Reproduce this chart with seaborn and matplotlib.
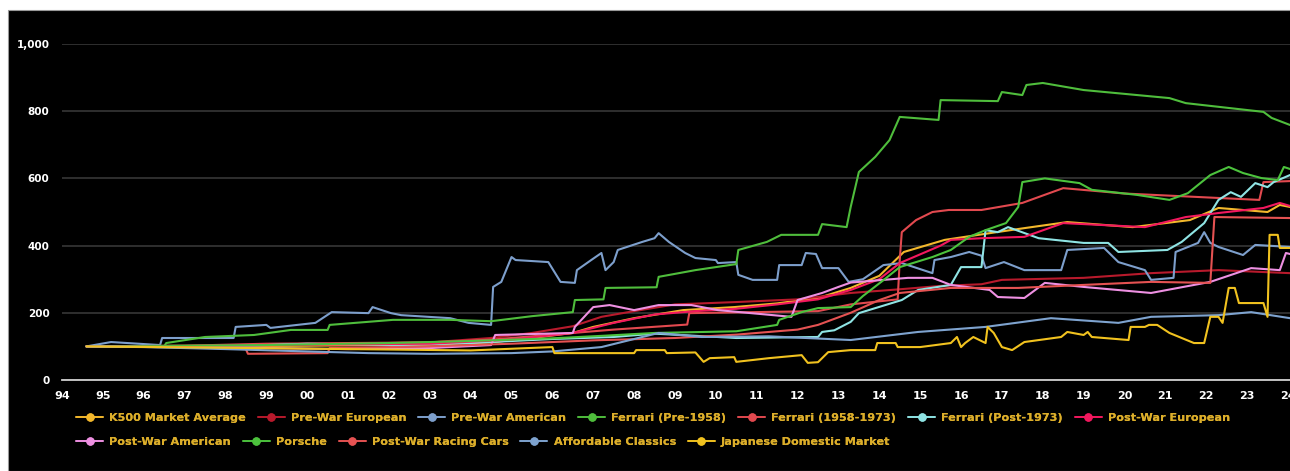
# k500_index_chart.py

import pandas as pd
import matplotlib
matplotlib.use("Agg")
import matplotlib.pyplot as plt
from matplotlib.lines import Line2D
from matplotlib.patches import Rectangle
from matplotlib.ticker import MultipleLocator, FuncFormatter
import seaborn as sns

# --- Données (année décimale, indice) ---
k500 = [(1994.6, 100), (1997, 100), (2000, 102), (2003, 105), (2004.5, 112), (2005.5, 125),
        (2006.5, 140), (2007, 158), (2008, 184), (2009.2, 208), (2010.45, 217), (2011.5, 228),
        (2012.5, 244), (2013.3, 274), (2014, 310), (2014.6, 381), (2015.6, 417), (2016.7, 437),
        (2017.55, 452), (2018.6, 470), (2020.2, 455), (2021.6, 476), (2022.3, 512),
        (2023.5, 500), (2023.8, 521), (2024.05, 515)]

pre_war_european = [(1994.6, 100), (1997, 102), (1999, 105), (2001, 108), (2003, 112),
                    (2004.5, 125), (2005.5, 140), (2006.5, 160), (2007.2, 188), (2008, 205),
                    (2009, 225), (2010.5, 232), (2012, 240), (2013.3, 259), (2014.5, 270),
                    (2015.5, 280), (2016.5, 285), (2017, 298), (2019, 304), (2020.65, 318),
                    (2022.3, 327), (2024.05, 318)]

pre_war_american = [(1994.6, 100), (1995.2, 113), (1996.4, 104), (1996.45, 125), (1998.2, 125),
                    (1998.25, 158), (1999, 164), (1999.1, 155), (2000.2, 170), (2000.6, 202),
                    (2001.5, 199), (2001.6, 217), (2002.05, 199), (2002.3, 193), (2003.5, 184),
                    (2003.95, 170), (2004.5, 164), (2004.55, 277), (2004.75, 292), (2005.0, 366),
                    (2005.1, 357), (2005.9, 351), (2006.2, 292), (2006.55, 289), (2006.6, 327),
                    (2006.95, 357), (2007.2, 378), (2007.3, 327), (2007.5, 351), (2007.6, 387),
                    (2008.2, 411), (2008.5, 422), (2008.6, 437), (2008.85, 411), (2009.25, 378),
                    (2009.5, 363), (2010, 357), (2010.05, 348), (2010.5, 351), (2010.55, 313),
                    (2010.9, 298), (2011.5, 298), (2011.55, 342), (2012.1, 342), (2012.2, 378),
                    (2012.45, 375), (2012.6, 333), (2013, 333), (2013.25, 292), (2013.6, 300),
                    (2014.1, 342), (2014.55, 348), (2015.3, 318), (2015.35, 357), (2015.75, 366),
                    (2016.2, 381), (2016.5, 370), (2016.6, 333), (2017.05, 351), (2017.55, 327),
                    (2018.45, 327), (2018.6, 387), (2019.5, 393), (2019.85, 351), (2020.5, 327),
                    (2020.65, 298), (2021.2, 304), (2021.25, 381), (2021.8, 408), (2021.95, 440),
                    (2022.1, 408), (2022.3, 396), (2022.9, 372), (2023.2, 402), (2024.05, 396)]

ferrari_pre_1958 = [(1994.6, 100), (1996.5, 100), (1996.55, 110), (1997.5, 128), (1998.7, 134),
                    (1999.6, 149), (2000.5, 149), (2000.55, 164), (2002.1, 179), (2003.5, 179),
                    (2004.5, 175), (2005.5, 190), (2006.5, 202), (2006.55, 238), (2007.25, 240),
                    (2007.3, 274), (2008.55, 276), (2008.6, 307), (2009.5, 327), (2010.5, 345),
                    (2010.55, 387), (2011.25, 411), (2011.6, 432), (2012.5, 432), (2012.6, 464),
                    (2013.2, 455), (2013.3, 515), (2013.5, 619), (2013.9, 664), (2014.25, 714),
                    (2014.5, 783), (2015.45, 774), (2015.5, 833), (2016.9, 830), (2017.0, 857),
                    (2017.5, 848), (2017.6, 878), (2018.0, 884), (2019.0, 863), (2021.1, 839),
                    (2021.5, 824), (2023.4, 798), (2023.6, 780), (2024.05, 759)]

ferrari_1958_1973 = [(1994.6, 100), (1997, 102), (1999, 108), (2001, 110), (2003, 112),
                     (2004.5, 120), (2006, 135), (2007.5, 150), (2009.3, 165), (2009.35, 199),
                     (2012.5, 205), (2013.3, 225), (2014.45, 240), (2014.5, 357), (2014.55, 440),
                     (2014.9, 476), (2015.3, 500), (2015.7, 506), (2016.5, 506), (2017.5, 527),
                     (2018.5, 571), (2020, 555), (2023.3, 536), (2023.4, 589), (2024.05, 592)]

ferrari_post_1973 = [(1994.6, 100), (1998, 100), (2000, 108), (2002.3, 104), (2004, 110),
                     (2006, 122), (2007.5, 128), (2008.5, 138), (2010.5, 125), (2012.5, 128),
                     (2012.6, 143), (2012.9, 148), (2013.3, 173), (2013.5, 199), (2014.55, 238),
                     (2014.95, 268), (2015.75, 283), (2016.0, 336), (2016.5, 336), (2016.6, 446),
                     (2016.9, 440), (2017.15, 455), (2017.9, 422), (2019.0, 408), (2019.6, 408),
                     (2019.85, 381), (2021.05, 387), (2021.4, 411), (2021.95, 467), (2022.3, 536),
                     (2022.6, 559), (2022.85, 545), (2023.2, 586), (2023.5, 574), (2023.65, 589),
                     (2024.05, 610)]

post_war_european = [(1994.6, 100), (1997, 100), (2000, 105), (2003, 108), (2005, 120),
                     (2006.5, 140), (2007.5, 170), (2008.5, 195), (2009.5, 205), (2010.5, 212),
                     (2011.5, 225), (2012.5, 240), (2013.3, 268), (2014, 300), (2014.5, 348),
                     (2015.5, 400), (2015.75, 417), (2016.5, 422), (2017.55, 426), (2018.5, 467),
                     (2020.5, 455), (2021.5, 485), (2022.3, 497), (2023.4, 512), (2023.8, 527),
                     (2024.05, 518)]

post_war_american = [(1994.6, 100), (1996.5, 98), (1999, 95), (2001, 92), (2003, 95),
                     (2004.5, 104), (2004.6, 134), (2006.5, 140), (2006.55, 158), (2007, 217),
                     (2007.4, 223), (2008, 208), (2008.6, 223), (2009.4, 223), (2010.05, 208),
                     (2011.85, 188), (2012, 238), (2012.6, 259), (2013, 277), (2013.3, 290),
                     (2014.7, 304), (2015.3, 304), (2015.75, 283), (2016.7, 268), (2016.9, 247),
                     (2017.55, 244), (2018.05, 289), (2019, 277), (2020.65, 259), (2022.1, 292),
                     (2023.1, 333), (2023.8, 327), (2023.95, 378), (2024.05, 375)]

porsche = [(1994.6, 100), (1999, 104), (2002, 110), (2004, 116), (2006, 124), (2007.3, 132),
           (2008.5, 140), (2010.5, 145), (2011.5, 164), (2011.55, 179), (2012.1, 202),
           (2012.5, 214), (2013.3, 217), (2013.6, 250), (2014.1, 297), (2014.5, 336),
           (2015.3, 366), (2015.75, 387), (2016.2, 426), (2016.6, 446), (2017.1, 467),
           (2017.4, 515), (2017.5, 589), (2018.05, 600), (2018.9, 586), (2019.2, 566),
           (2020.3, 551), (2021.1, 536), (2021.55, 556), (2022.1, 610), (2022.55, 634),
           (2022.9, 616), (2023.35, 601), (2023.75, 595), (2023.9, 634), (2024.05, 628)]

post_war_racing = [(1994.6, 100), (1997, 98), (1998.5, 92), (1998.55, 78), (2000.5, 80),
                   (2000.55, 95), (2003, 100), (2005, 108), (2007, 118), (2009, 125),
                   (2010.5, 135), (2012, 150), (2012.5, 164), (2013.3, 200), (2014, 238),
                   (2014.5, 259), (2015.75, 274), (2017.4, 274), (2019, 283), (2020.65, 292),
                   (2022.1, 289), (2022.2, 485), (2024.05, 482)]

affordable_classics = [(1994.6, 100), (1996, 98), (1998, 92), (2000, 85), (2001.5, 80),
                       (2003, 78), (2005, 80), (2006, 85), (2007.2, 98), (2008.6, 140),
                       (2009.65, 128), (2011.3, 130), (2013.3, 119), (2014.95, 143),
                       (2016.6, 158), (2018.2, 184), (2019.85, 170), (2020.65, 188),
                       (2022.3, 193), (2023.1, 202), (2024.05, 184)]

japanese_domestic = [(1994.6, 100), (1998, 96), (2001, 92), (2004, 88), (2006, 98), (2006.05, 80),
                     (2008, 80), (2008.05, 89), (2008.75, 89), (2008.8, 80), (2009.5, 82),
                     (2009.7, 54), (2009.85, 65), (2010.45, 68), (2010.5, 54), (2011.3, 65),
                     (2012.1, 74), (2012.25, 51), (2012.5, 53), (2012.75, 83), (2013.3, 89),
                     (2013.9, 89), (2013.95, 110), (2014.4, 110), (2014.45, 98), (2015.0, 98),
                     (2015.75, 110), (2015.9, 128), (2016.0, 98), (2016.1, 110), (2016.3, 128),
                     (2016.6, 110), (2016.65, 158), (2016.8, 140), (2017.0, 98), (2017.25, 89),
                     (2017.55, 113), (2018.45, 128), (2018.6, 143), (2019, 134), (2019.1, 143),
                     (2019.2, 128), (2020.1, 119), (2020.15, 158), (2020.5, 158), (2020.6, 164),
                     (2020.8, 164), (2021.1, 140), (2021.7, 110), (2021.95, 110), (2022.1, 188),
                     (2022.3, 188), (2022.4, 170), (2022.55, 274), (2022.7, 274), (2022.8, 229),
                     (2023.4, 229), (2023.5, 188), (2023.55, 432), (2023.75, 432), (2023.8, 393),
                     (2024.05, 393)]

series_names = ["K500 Market Average", "Pre-War European", "Pre-War American",
                "Ferrari (Pre-1958)", "Ferrari (1958-1973)", "Ferrari (Post-1973)",
                "Post-War European", "Post-War American", "Porsche",
                "Post-War Racing Cars", "Affordable Classics", "Japanese Domestic Market"]
series_data = [k500, pre_war_european, pre_war_american, ferrari_pre_1958, ferrari_1958_1973,
               ferrari_post_1973, post_war_european, post_war_american, porsche,
               post_war_racing, affordable_classics, japanese_domestic]
series_colors = ["#f3b82c", "#b81a2c", "#7d9fcc", "#4fbd3c", "#e2494f", "#8fe4e4",
                 "#f2185e", "#ee90e2", "#4cc23d", "#e55252", "#7ea3cf", "#f1c21f"]

year_ticks = list(range(1994, 2025))
year_labels = ["%02d" % (y % 100) for y in year_ticks]

# --- Tableau long ---
rows = []
for name, pts in zip(series_names, series_data):
    for yr, val in pts:
        rows.append({"series": name, "year": yr, "value": val})
df = pd.DataFrame(rows)
palette = dict(zip(series_names, series_colors))

# --- Figure ---
sns.set_style("dark")
plt.rcParams['font.family'] = ['DejaVu Sans']

fig = plt.figure(figsize=(12.9, 4.71), dpi=100)
fig.patch.set_facecolor("white")
fig.add_artist(Rectangle((8 / 1290, 0), 1, (471 - 10) / 471, transform=fig.transFigure,
                         facecolor="black", edgecolor="#999999", linewidth=0.8, zorder=-5))

ax = fig.add_axes([62 / 1290, 1 - 380 / 471, (1290 - 62) / 1290, (380 - 44) / 471])
ax.set_facecolor("none")

sns.lineplot(data=df, x="year", y="value", hue="series", hue_order=series_names,
             palette=palette, estimator=None, sort=False, linewidth=1.5, legend=False, ax=ax)

ax.set_xlim(1994, 2024.05)
ax.set_ylim(0, 1000)
ax.set_xticks(year_ticks)
ax.set_xticklabels(year_labels)
ax.xaxis.set_minor_locator(MultipleLocator(0.25))
ax.yaxis.set_major_locator(MultipleLocator(200))
ax.yaxis.set_major_formatter(FuncFormatter(lambda v, p: f"{int(v):,}"))
ax.set_xlabel("")
ax.set_ylabel("")

ax.grid(False)
ax.yaxis.grid(True, color="#3c3c3c", linewidth=1.1)
ax.xaxis.grid(False)
for s in ["top", "right", "left"]:
    ax.spines[s].set_visible(False)
ax.spines["bottom"].set_color("#d0d0d0")
ax.spines["bottom"].set_linewidth(1.3)

ax.tick_params(axis="x", which="major", length=5, width=1, color="#d0d0d0", colors="white",
               labelsize=8, pad=3, direction="out")
ax.tick_params(axis="x", which="minor", length=3, width=0.8, color="#d0d0d0", direction="out")
ax.tick_params(axis="y", length=0, colors="white", labelsize=7.5, pad=9)
for lab in ax.get_xticklabels() + ax.get_yticklabels():
    lab.set_fontweight("bold")
    lab.set_color("white")

# --- Légende sur deux lignes ---
handles = [Line2D([], [], color=c, marker="o", markersize=5, linewidth=1.2) for c in series_colors]
row1 = slice(0, 7)
row2 = slice(7, 12)
for sl, ypix, n in [(row1, 418, 7), (row2, 442, 5)]:
    leg = fig.legend(handles[sl], series_names[sl], loc="center left",
                     bbox_to_anchor=(76 / 1290, 1 - ypix / 471), ncol=n, frameon=False,
                     handlelength=2.4, handletextpad=0.55, columnspacing=1.05,
                     borderpad=0, borderaxespad=0, labelcolor="#dcae2a",
                     prop={"size": 8.1, "weight": "bold"})
    fig.add_artist(leg)

fig.savefig("out.png", dpi=100, facecolor=fig.get_facecolor())
